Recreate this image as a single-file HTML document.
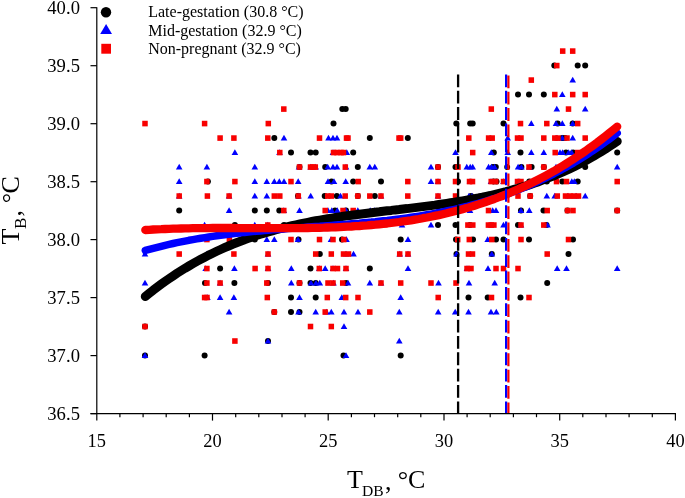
<!DOCTYPE html>
<html><head><meta charset="utf-8"><title>TB vs TDB</title>
<style>
html,body{margin:0;padding:0;background:#fff;}
body{width:685px;height:498px;overflow:hidden;position:relative;font-family:"Liberation Serif",serif;}
</style></head><body>
<svg width="685" height="498" viewBox="0 0 685 498" style="position:absolute;left:0;top:0;will-change:transform">
<rect width="685" height="498" fill="#fff"/>
<g fill="#000"><circle cx="554.3" cy="65.6" r="3"/><circle cx="577.7" cy="65.6" r="3"/><circle cx="585.2" cy="65.6" r="3"/><circle cx="518.0" cy="94.6" r="3"/><circle cx="529.0" cy="94.6" r="3"/><circle cx="543.8" cy="94.6" r="3"/><circle cx="342.3" cy="109.1" r="3"/><circle cx="345.7" cy="109.1" r="3"/><circle cx="333.5" cy="123.6" r="3"/><circle cx="456.3" cy="123.6" r="3"/><circle cx="470.2" cy="123.6" r="3"/><circle cx="472.7" cy="123.6" r="3"/><circle cx="503.5" cy="123.6" r="3"/><circle cx="557.7" cy="123.6" r="3"/><circle cx="572.7" cy="123.6" r="3"/><circle cx="274.3" cy="138.1" r="3"/><circle cx="369.8" cy="138.1" r="3"/><circle cx="407.8" cy="138.1" r="3"/><circle cx="562.3" cy="138.1" r="3"/><circle cx="565.0" cy="138.1" r="3"/><circle cx="291.0" cy="152.6" r="3"/><circle cx="310.5" cy="152.6" r="3"/><circle cx="315.7" cy="152.6" r="3"/><circle cx="353.2" cy="152.6" r="3"/><circle cx="493.8" cy="152.6" r="3"/><circle cx="520.5" cy="152.6" r="3"/><circle cx="566.0" cy="152.6" r="3"/><circle cx="573.1" cy="152.6" r="3"/><circle cx="617.2" cy="152.6" r="3"/><circle cx="299.5" cy="167.1" r="3"/><circle cx="325.2" cy="167.1" r="3"/><circle cx="357.8" cy="167.1" r="3"/><circle cx="438.0" cy="167.1" r="3"/><circle cx="455.5" cy="167.1" r="3"/><circle cx="493.0" cy="167.1" r="3"/><circle cx="495.8" cy="167.1" r="3"/><circle cx="507.2" cy="167.1" r="3"/><circle cx="521.4" cy="167.1" r="3"/><circle cx="531.6" cy="167.1" r="3"/><circle cx="543.8" cy="167.1" r="3"/><circle cx="585.2" cy="167.1" r="3"/><circle cx="207.9" cy="181.6" r="3"/><circle cx="331.5" cy="181.6" r="3"/><circle cx="353.2" cy="181.6" r="3"/><circle cx="381.0" cy="181.6" r="3"/><circle cx="458.0" cy="181.6" r="3"/><circle cx="493.5" cy="181.6" r="3"/><circle cx="496.5" cy="181.6" r="3"/><circle cx="529.3" cy="181.6" r="3"/><circle cx="546.8" cy="181.6" r="3"/><circle cx="562.3" cy="181.6" r="3"/><circle cx="577.7" cy="181.6" r="3"/><circle cx="298.0" cy="196.1" r="3"/><circle cx="324.7" cy="196.1" r="3"/><circle cx="336.8" cy="196.1" r="3"/><circle cx="357.8" cy="196.1" r="3"/><circle cx="374.8" cy="196.1" r="3"/><circle cx="471.0" cy="196.1" r="3"/><circle cx="530.2" cy="196.1" r="3"/><circle cx="179.2" cy="210.6" r="3"/><circle cx="254.8" cy="210.6" r="3"/><circle cx="266.8" cy="210.6" r="3"/><circle cx="279.3" cy="210.6" r="3"/><circle cx="335.0" cy="210.6" r="3"/><circle cx="346.0" cy="210.6" r="3"/><circle cx="521.0" cy="210.6" r="3"/><circle cx="543.5" cy="210.6" r="3"/><circle cx="567.5" cy="210.6" r="3"/><circle cx="617.2" cy="210.6" r="3"/><circle cx="234.9" cy="225.0" r="3"/><circle cx="284.0" cy="225.0" r="3"/><circle cx="438.0" cy="225.0" r="3"/><circle cx="455.5" cy="225.0" r="3"/><circle cx="470.0" cy="225.0" r="3"/><circle cx="518.0" cy="225.0" r="3"/><circle cx="546.5" cy="225.0" r="3"/><circle cx="254.8" cy="239.5" r="3"/><circle cx="298.5" cy="239.5" r="3"/><circle cx="342.0" cy="239.5" r="3"/><circle cx="400.7" cy="239.5" r="3"/><circle cx="456.0" cy="239.5" r="3"/><circle cx="473.0" cy="239.5" r="3"/><circle cx="496.0" cy="239.5" r="3"/><circle cx="503.5" cy="239.5" r="3"/><circle cx="529.0" cy="239.5" r="3"/><circle cx="573.0" cy="239.5" r="3"/><circle cx="319.8" cy="254.0" r="3"/><circle cx="456.5" cy="254.0" r="3"/><circle cx="491.8" cy="254.0" r="3"/><circle cx="568.5" cy="254.0" r="3"/><circle cx="220.1" cy="268.5" r="3"/><circle cx="310.5" cy="268.5" r="3"/><circle cx="369.8" cy="268.5" r="3"/><circle cx="205.0" cy="283.0" r="3"/><circle cx="234.4" cy="283.0" r="3"/><circle cx="268.0" cy="283.0" r="3"/><circle cx="299.5" cy="283.0" r="3"/><circle cx="310.5" cy="283.0" r="3"/><circle cx="315.7" cy="283.0" r="3"/><circle cx="346.0" cy="283.0" r="3"/><circle cx="547.2" cy="283.0" r="3"/><circle cx="291.0" cy="297.5" r="3"/><circle cx="315.7" cy="297.5" r="3"/><circle cx="468.5" cy="297.5" r="3"/><circle cx="487.7" cy="297.5" r="3"/><circle cx="520.5" cy="297.5" r="3"/><circle cx="274.3" cy="312.0" r="3"/><circle cx="291.0" cy="312.0" r="3"/><circle cx="299.5" cy="312.0" r="3"/><circle cx="145.0" cy="326.5" r="3"/><circle cx="268.0" cy="341.0" r="3"/><circle cx="145.0" cy="355.5" r="3"/><circle cx="204.6" cy="355.5" r="3"/><circle cx="343.5" cy="355.5" r="3"/><circle cx="400.7" cy="355.5" r="3"/></g>
<g fill="#0000ff"><path d="M572.7,76.8l3.3,5.8h-6.6z"/><path d="M562.3,91.3l3.3,5.8h-6.6z"/><path d="M556.8,105.8l3.3,5.8h-6.6z"/><path d="M585.2,105.8l3.3,5.8h-6.6z"/><path d="M531.3,120.3l3.3,5.8h-6.6z"/><path d="M556.0,120.3l3.3,5.8h-6.6z"/><path d="M562.3,120.3l3.3,5.8h-6.6z"/><path d="M572.7,120.3l3.3,5.8h-6.6z"/><path d="M284.0,134.8l3.3,5.8h-6.6z"/><path d="M328.5,134.8l3.3,5.8h-6.6z"/><path d="M333.0,134.8l3.3,5.8h-6.6z"/><path d="M337.0,134.8l3.3,5.8h-6.6z"/><path d="M507.7,134.8l3.3,5.8h-6.6z"/><path d="M557.0,134.8l3.3,5.8h-6.6z"/><path d="M562.3,134.8l3.3,5.8h-6.6z"/><path d="M572.7,134.8l3.3,5.8h-6.6z"/><path d="M234.9,149.3l3.3,5.8h-6.6z"/><path d="M279.5,149.3l3.3,5.8h-6.6z"/><path d="M333.0,149.3l3.3,5.8h-6.6z"/><path d="M346.8,149.3l3.3,5.8h-6.6z"/><path d="M455.5,149.3l3.3,5.8h-6.6z"/><path d="M491.3,149.3l3.3,5.8h-6.6z"/><path d="M507.7,149.3l3.3,5.8h-6.6z"/><path d="M531.3,149.3l3.3,5.8h-6.6z"/><path d="M543.8,149.3l3.3,5.8h-6.6z"/><path d="M560.0,149.3l3.3,5.8h-6.6z"/><path d="M562.6,149.3l3.3,5.8h-6.6z"/><path d="M568.6,149.3l3.3,5.8h-6.6z"/><path d="M571.6,149.3l3.3,5.8h-6.6z"/><path d="M179.2,163.8l3.3,5.8h-6.6z"/><path d="M206.9,163.8l3.3,5.8h-6.6z"/><path d="M254.8,163.8l3.3,5.8h-6.6z"/><path d="M299.0,163.8l3.3,5.8h-6.6z"/><path d="M310.7,163.8l3.3,5.8h-6.6z"/><path d="M315.7,163.8l3.3,5.8h-6.6z"/><path d="M327.7,163.8l3.3,5.8h-6.6z"/><path d="M333.0,163.8l3.3,5.8h-6.6z"/><path d="M337.0,163.8l3.3,5.8h-6.6z"/><path d="M346.0,163.8l3.3,5.8h-6.6z"/><path d="M369.8,163.8l3.3,5.8h-6.6z"/><path d="M374.8,163.8l3.3,5.8h-6.6z"/><path d="M431.0,163.8l3.3,5.8h-6.6z"/><path d="M466.8,163.8l3.3,5.8h-6.6z"/><path d="M470.2,163.8l3.3,5.8h-6.6z"/><path d="M472.7,163.8l3.3,5.8h-6.6z"/><path d="M488.6,163.8l3.3,5.8h-6.6z"/><path d="M491.6,163.8l3.3,5.8h-6.6z"/><path d="M494.6,163.8l3.3,5.8h-6.6z"/><path d="M518.1,163.8l3.3,5.8h-6.6z"/><path d="M521.4,163.8l3.3,5.8h-6.6z"/><path d="M529.3,163.8l3.3,5.8h-6.6z"/><path d="M556.0,163.8l3.3,5.8h-6.6z"/><path d="M617.2,163.8l3.3,5.8h-6.6z"/><path d="M179.2,178.3l3.3,5.8h-6.6z"/><path d="M254.8,178.3l3.3,5.8h-6.6z"/><path d="M266.8,178.3l3.3,5.8h-6.6z"/><path d="M274.3,178.3l3.3,5.8h-6.6z"/><path d="M279.3,178.3l3.3,5.8h-6.6z"/><path d="M284.0,178.3l3.3,5.8h-6.6z"/><path d="M298.2,178.3l3.3,5.8h-6.6z"/><path d="M328.0,178.3l3.3,5.8h-6.6z"/><path d="M334.0,178.3l3.3,5.8h-6.6z"/><path d="M345.7,178.3l3.3,5.8h-6.6z"/><path d="M431.0,178.3l3.3,5.8h-6.6z"/><path d="M438.0,178.3l3.3,5.8h-6.6z"/><path d="M470.0,178.3l3.3,5.8h-6.6z"/><path d="M491.0,178.3l3.3,5.8h-6.6z"/><path d="M503.5,178.3l3.3,5.8h-6.6z"/><path d="M518.0,178.3l3.3,5.8h-6.6z"/><path d="M571.8,178.3l3.3,5.8h-6.6z"/><path d="M574.3,178.3l3.3,5.8h-6.6z"/><path d="M179.2,192.8l3.3,5.8h-6.6z"/><path d="M229.1,192.8l3.3,5.8h-6.6z"/><path d="M254.8,192.8l3.3,5.8h-6.6z"/><path d="M266.8,192.8l3.3,5.8h-6.6z"/><path d="M298.5,192.8l3.3,5.8h-6.6z"/><path d="M310.7,192.8l3.3,5.8h-6.6z"/><path d="M340.5,192.8l3.3,5.8h-6.6z"/><path d="M381.0,192.8l3.3,5.8h-6.6z"/><path d="M438.0,192.8l3.3,5.8h-6.6z"/><path d="M469.0,192.8l3.3,5.8h-6.6z"/><path d="M472.0,192.8l3.3,5.8h-6.6z"/><path d="M546.8,192.8l3.3,5.8h-6.6z"/><path d="M554.7,192.8l3.3,5.8h-6.6z"/><path d="M568.0,192.8l3.3,5.8h-6.6z"/><path d="M576.0,192.8l3.3,5.8h-6.6z"/><path d="M585.2,192.8l3.3,5.8h-6.6z"/><path d="M229.1,207.2l3.3,5.8h-6.6z"/><path d="M283.8,207.2l3.3,5.8h-6.6z"/><path d="M299.5,207.2l3.3,5.8h-6.6z"/><path d="M328.0,207.2l3.3,5.8h-6.6z"/><path d="M331.8,207.2l3.3,5.8h-6.6z"/><path d="M337.3,207.2l3.3,5.8h-6.6z"/><path d="M346.0,207.2l3.3,5.8h-6.6z"/><path d="M357.8,207.2l3.3,5.8h-6.6z"/><path d="M370.2,207.2l3.3,5.8h-6.6z"/><path d="M374.3,207.2l3.3,5.8h-6.6z"/><path d="M437.7,207.2l3.3,5.8h-6.6z"/><path d="M470.0,207.2l3.3,5.8h-6.6z"/><path d="M492.7,207.2l3.3,5.8h-6.6z"/><path d="M496.0,207.2l3.3,5.8h-6.6z"/><path d="M521.0,207.2l3.3,5.8h-6.6z"/><path d="M529.3,207.2l3.3,5.8h-6.6z"/><path d="M204.6,221.7l3.3,5.8h-6.6z"/><path d="M254.8,221.7l3.3,5.8h-6.6z"/><path d="M267.8,221.7l3.3,5.8h-6.6z"/><path d="M402.0,221.7l3.3,5.8h-6.6z"/><path d="M431.0,221.7l3.3,5.8h-6.6z"/><path d="M491.0,221.7l3.3,5.8h-6.6z"/><path d="M503.5,221.7l3.3,5.8h-6.6z"/><path d="M521.0,221.7l3.3,5.8h-6.6z"/><path d="M547.5,221.7l3.3,5.8h-6.6z"/><path d="M266.8,236.2l3.3,5.8h-6.6z"/><path d="M274.3,236.2l3.3,5.8h-6.6z"/><path d="M298.0,236.2l3.3,5.8h-6.6z"/><path d="M331.0,236.2l3.3,5.8h-6.6z"/><path d="M346.5,236.2l3.3,5.8h-6.6z"/><path d="M408.0,236.2l3.3,5.8h-6.6z"/><path d="M487.7,236.2l3.3,5.8h-6.6z"/><path d="M145.0,250.7l3.3,5.8h-6.6z"/><path d="M206.9,250.7l3.3,5.8h-6.6z"/><path d="M268.0,250.7l3.3,5.8h-6.6z"/><path d="M346.0,250.7l3.3,5.8h-6.6z"/><path d="M353.5,250.7l3.3,5.8h-6.6z"/><path d="M399.7,250.7l3.3,5.8h-6.6z"/><path d="M408.0,250.7l3.3,5.8h-6.6z"/><path d="M456.5,250.7l3.3,5.8h-6.6z"/><path d="M491.8,250.7l3.3,5.8h-6.6z"/><path d="M205.7,265.2l3.3,5.8h-6.6z"/><path d="M234.4,265.2l3.3,5.8h-6.6z"/><path d="M268.0,265.2l3.3,5.8h-6.6z"/><path d="M291.3,265.2l3.3,5.8h-6.6z"/><path d="M319.3,265.2l3.3,5.8h-6.6z"/><path d="M325.2,265.2l3.3,5.8h-6.6z"/><path d="M333.0,265.2l3.3,5.8h-6.6z"/><path d="M346.0,265.2l3.3,5.8h-6.6z"/><path d="M408.0,265.2l3.3,5.8h-6.6z"/><path d="M467.0,265.2l3.3,5.8h-6.6z"/><path d="M488.0,265.2l3.3,5.8h-6.6z"/><path d="M557.2,265.2l3.3,5.8h-6.6z"/><path d="M566.5,265.2l3.3,5.8h-6.6z"/><path d="M617.2,265.2l3.3,5.8h-6.6z"/><path d="M145.0,279.7l3.3,5.8h-6.6z"/><path d="M220.1,279.7l3.3,5.8h-6.6z"/><path d="M291.3,279.7l3.3,5.8h-6.6z"/><path d="M311.0,279.7l3.3,5.8h-6.6z"/><path d="M316.0,279.7l3.3,5.8h-6.6z"/><path d="M319.8,279.7l3.3,5.8h-6.6z"/><path d="M333.5,279.7l3.3,5.8h-6.6z"/><path d="M348.0,279.7l3.3,5.8h-6.6z"/><path d="M369.8,279.7l3.3,5.8h-6.6z"/><path d="M381.0,279.7l3.3,5.8h-6.6z"/><path d="M438.5,279.7l3.3,5.8h-6.6z"/><path d="M469.0,279.7l3.3,5.8h-6.6z"/><path d="M494.7,279.7l3.3,5.8h-6.6z"/><path d="M207.4,294.2l3.3,5.8h-6.6z"/><path d="M220.1,294.2l3.3,5.8h-6.6z"/><path d="M233.9,294.2l3.3,5.8h-6.6z"/><path d="M299.5,294.2l3.3,5.8h-6.6z"/><path d="M341.8,294.2l3.3,5.8h-6.6z"/><path d="M400.7,294.2l3.3,5.8h-6.6z"/><path d="M229.1,308.7l3.3,5.8h-6.6z"/><path d="M298.5,308.7l3.3,5.8h-6.6z"/><path d="M315.7,308.7l3.3,5.8h-6.6z"/><path d="M326.5,308.7l3.3,5.8h-6.6z"/><path d="M331.3,308.7l3.3,5.8h-6.6z"/><path d="M344.0,308.7l3.3,5.8h-6.6z"/><path d="M358.0,308.7l3.3,5.8h-6.6z"/><path d="M399.3,308.7l3.3,5.8h-6.6z"/><path d="M438.2,308.7l3.3,5.8h-6.6z"/><path d="M455.2,308.7l3.3,5.8h-6.6z"/><path d="M468.5,308.7l3.3,5.8h-6.6z"/><path d="M491.0,308.7l3.3,5.8h-6.6z"/><path d="M496.3,308.7l3.3,5.8h-6.6z"/><path d="M344.0,323.2l3.3,5.8h-6.6z"/><path d="M268.0,337.7l3.3,5.8h-6.6z"/><path d="M399.3,337.7l3.3,5.8h-6.6z"/><path d="M145.0,352.2l3.3,5.8h-6.6z"/><path d="M346.0,352.2l3.3,5.8h-6.6z"/></g>
<g fill="#f80000"><rect x="559.95" y="48.29" width="5.5" height="5.6"/><rect x="569.95" y="48.29" width="5.5" height="5.6"/><rect x="554.05" y="62.79" width="5.5" height="5.6"/><rect x="528.55" y="77.28" width="5.5" height="5.6"/><rect x="552.05" y="91.78" width="5.5" height="5.6"/><rect x="569.95" y="91.78" width="5.5" height="5.6"/><rect x="582.45" y="91.78" width="5.5" height="5.6"/><rect x="281.05" y="106.27" width="5.5" height="5.6"/><rect x="488.55" y="106.27" width="5.5" height="5.6"/><rect x="565.75" y="106.27" width="5.5" height="5.6"/><rect x="142.25" y="120.77" width="5.5" height="5.6"/><rect x="201.85" y="120.77" width="5.5" height="5.6"/><rect x="265.55" y="120.77" width="5.5" height="5.6"/><rect x="517.75" y="120.77" width="5.5" height="5.6"/><rect x="544.05" y="120.77" width="5.5" height="5.6"/><rect x="574.95" y="120.77" width="5.5" height="5.6"/><rect x="217.35" y="135.27" width="5.5" height="5.6"/><rect x="231.15" y="135.27" width="5.5" height="5.6"/><rect x="265.05" y="135.27" width="5.5" height="5.6"/><rect x="316.75" y="135.27" width="5.5" height="5.6"/><rect x="343.75" y="135.27" width="5.5" height="5.6"/><rect x="345.25" y="135.27" width="5.5" height="5.6"/><rect x="396.25" y="135.27" width="5.5" height="5.6"/><rect x="397.95" y="135.27" width="5.5" height="5.6"/><rect x="466.05" y="135.27" width="5.5" height="5.6"/><rect x="485.85" y="135.27" width="5.5" height="5.6"/><rect x="489.45" y="135.27" width="5.5" height="5.6"/><rect x="514.75" y="135.27" width="5.5" height="5.6"/><rect x="518.25" y="135.27" width="5.5" height="5.6"/><rect x="541.05" y="135.27" width="5.5" height="5.6"/><rect x="552.05" y="135.27" width="5.5" height="5.6"/><rect x="555.25" y="135.27" width="5.5" height="5.6"/><rect x="564.25" y="135.27" width="5.5" height="5.6"/><rect x="582.45" y="135.27" width="5.5" height="5.6"/><rect x="277.05" y="149.76" width="5.5" height="5.6"/><rect x="330.75" y="149.76" width="5.5" height="5.6"/><rect x="334.25" y="149.76" width="5.5" height="5.6"/><rect x="338.25" y="149.76" width="5.5" height="5.6"/><rect x="340.75" y="149.76" width="5.5" height="5.6"/><rect x="469.95" y="149.76" width="5.5" height="5.6"/><rect x="552.45" y="149.76" width="5.5" height="5.6"/><rect x="574.95" y="149.76" width="5.5" height="5.6"/><rect x="296.75" y="164.26" width="5.5" height="5.6"/><rect x="307.75" y="164.26" width="5.5" height="5.6"/><rect x="310.25" y="164.26" width="5.5" height="5.6"/><rect x="312.55" y="164.26" width="5.5" height="5.6"/><rect x="342.55" y="164.26" width="5.5" height="5.6"/><rect x="435.25" y="164.26" width="5.5" height="5.6"/><rect x="455.25" y="164.26" width="5.5" height="5.6"/><rect x="526.25" y="164.26" width="5.5" height="5.6"/><rect x="541.05" y="164.26" width="5.5" height="5.6"/><rect x="204.15" y="178.76" width="5.5" height="5.6"/><rect x="232.15" y="178.76" width="5.5" height="5.6"/><rect x="288.25" y="178.76" width="5.5" height="5.6"/><rect x="355.45" y="178.76" width="5.5" height="5.6"/><rect x="405.05" y="178.76" width="5.5" height="5.6"/><rect x="435.25" y="178.76" width="5.5" height="5.6"/><rect x="452.75" y="178.76" width="5.5" height="5.6"/><rect x="466.75" y="178.76" width="5.5" height="5.6"/><rect x="469.75" y="178.76" width="5.5" height="5.6"/><rect x="488.45" y="178.76" width="5.5" height="5.6"/><rect x="493.05" y="178.76" width="5.5" height="5.6"/><rect x="500.75" y="178.76" width="5.5" height="5.6"/><rect x="514.75" y="178.76" width="5.5" height="5.6"/><rect x="518.25" y="178.76" width="5.5" height="5.6"/><rect x="553.75" y="178.76" width="5.5" height="5.6"/><rect x="563.75" y="178.76" width="5.5" height="5.6"/><rect x="614.45" y="178.76" width="5.5" height="5.6"/><rect x="176.45" y="193.25" width="5.5" height="5.6"/><rect x="204.65" y="193.25" width="5.5" height="5.6"/><rect x="226.35" y="193.25" width="5.5" height="5.6"/><rect x="271.55" y="193.25" width="5.5" height="5.6"/><rect x="277.05" y="193.25" width="5.5" height="5.6"/><rect x="295.55" y="193.25" width="5.5" height="5.6"/><rect x="324.95" y="193.25" width="5.5" height="5.6"/><rect x="328.55" y="193.25" width="5.5" height="5.6"/><rect x="342.45" y="193.25" width="5.5" height="5.6"/><rect x="355.05" y="193.25" width="5.5" height="5.6"/><rect x="367.05" y="193.25" width="5.5" height="5.6"/><rect x="378.25" y="193.25" width="5.5" height="5.6"/><rect x="405.05" y="193.25" width="5.5" height="5.6"/><rect x="435.25" y="193.25" width="5.5" height="5.6"/><rect x="452.75" y="193.25" width="5.5" height="5.6"/><rect x="515.25" y="193.25" width="5.5" height="5.6"/><rect x="527.45" y="193.25" width="5.5" height="5.6"/><rect x="554.55" y="193.25" width="5.5" height="5.6"/><rect x="562.75" y="193.25" width="5.5" height="5.6"/><rect x="567.25" y="193.25" width="5.5" height="5.6"/><rect x="571.25" y="193.25" width="5.5" height="5.6"/><rect x="575.75" y="193.25" width="5.5" height="5.6"/><rect x="281.05" y="207.75" width="5.5" height="5.6"/><rect x="322.45" y="207.75" width="5.5" height="5.6"/><rect x="340.25" y="207.75" width="5.5" height="5.6"/><rect x="350.45" y="207.75" width="5.5" height="5.6"/><rect x="485.75" y="207.75" width="5.5" height="5.6"/><rect x="544.45" y="207.75" width="5.5" height="5.6"/><rect x="564.75" y="207.75" width="5.5" height="5.6"/><rect x="570.25" y="207.75" width="5.5" height="5.6"/><rect x="614.45" y="207.75" width="5.5" height="5.6"/><rect x="265.05" y="222.25" width="5.5" height="5.6"/><rect x="465.15" y="222.25" width="5.5" height="5.6"/><rect x="470.05" y="222.25" width="5.5" height="5.6"/><rect x="485.65" y="222.25" width="5.5" height="5.6"/><rect x="488.45" y="222.25" width="5.5" height="5.6"/><rect x="491.15" y="222.25" width="5.5" height="5.6"/><rect x="518.25" y="222.25" width="5.5" height="5.6"/><rect x="541.05" y="222.25" width="5.5" height="5.6"/><rect x="204.15" y="236.74" width="5.5" height="5.6"/><rect x="226.65" y="236.74" width="5.5" height="5.6"/><rect x="288.25" y="236.74" width="5.5" height="5.6"/><rect x="316.75" y="236.74" width="5.5" height="5.6"/><rect x="330.25" y="236.74" width="5.5" height="5.6"/><rect x="341.05" y="236.74" width="5.5" height="5.6"/><rect x="454.95" y="236.74" width="5.5" height="5.6"/><rect x="466.55" y="236.74" width="5.5" height="5.6"/><rect x="489.05" y="236.74" width="5.5" height="5.6"/><rect x="518.25" y="236.74" width="5.5" height="5.6"/><rect x="565.75" y="236.74" width="5.5" height="5.6"/><rect x="176.45" y="251.24" width="5.5" height="5.6"/><rect x="231.15" y="251.24" width="5.5" height="5.6"/><rect x="265.25" y="251.24" width="5.5" height="5.6"/><rect x="312.95" y="251.24" width="5.5" height="5.6"/><rect x="328.55" y="251.24" width="5.5" height="5.6"/><rect x="340.75" y="251.24" width="5.5" height="5.6"/><rect x="345.75" y="251.24" width="5.5" height="5.6"/><rect x="396.95" y="251.24" width="5.5" height="5.6"/><rect x="405.25" y="251.24" width="5.5" height="5.6"/><rect x="465.75" y="251.24" width="5.5" height="5.6"/><rect x="469.75" y="251.24" width="5.5" height="5.6"/><rect x="544.45" y="251.24" width="5.5" height="5.6"/><rect x="204.15" y="265.74" width="5.5" height="5.6"/><rect x="252.35" y="265.74" width="5.5" height="5.6"/><rect x="265.25" y="265.74" width="5.5" height="5.6"/><rect x="316.55" y="265.74" width="5.5" height="5.6"/><rect x="330.25" y="265.74" width="5.5" height="5.6"/><rect x="334.75" y="265.74" width="5.5" height="5.6"/><rect x="343.25" y="265.74" width="5.5" height="5.6"/><rect x="464.25" y="265.74" width="5.5" height="5.6"/><rect x="468.25" y="265.74" width="5.5" height="5.6"/><rect x="493.25" y="265.74" width="5.5" height="5.6"/><rect x="500.75" y="265.74" width="5.5" height="5.6"/><rect x="515.25" y="265.74" width="5.5" height="5.6"/><rect x="204.15" y="280.23" width="5.5" height="5.6"/><rect x="217.35" y="280.23" width="5.5" height="5.6"/><rect x="264.05" y="280.23" width="5.5" height="5.6"/><rect x="296.75" y="280.23" width="5.5" height="5.6"/><rect x="325.25" y="280.23" width="5.5" height="5.6"/><rect x="330.25" y="280.23" width="5.5" height="5.6"/><rect x="339.95" y="280.23" width="5.5" height="5.6"/><rect x="378.25" y="280.23" width="5.5" height="5.6"/><rect x="397.95" y="280.23" width="5.5" height="5.6"/><rect x="428.25" y="280.23" width="5.5" height="5.6"/><rect x="453.25" y="280.23" width="5.5" height="5.6"/><rect x="201.85" y="294.73" width="5.5" height="5.6"/><rect x="204.25" y="294.73" width="5.5" height="5.6"/><rect x="264.55" y="294.73" width="5.5" height="5.6"/><rect x="324.55" y="294.73" width="5.5" height="5.6"/><rect x="342.95" y="294.73" width="5.5" height="5.6"/><rect x="355.25" y="294.73" width="5.5" height="5.6"/><rect x="435.45" y="294.73" width="5.5" height="5.6"/><rect x="488.75" y="294.73" width="5.5" height="5.6"/><rect x="526.25" y="294.73" width="5.5" height="5.6"/><rect x="271.55" y="309.23" width="5.5" height="5.6"/><rect x="322.45" y="309.23" width="5.5" height="5.6"/><rect x="367.05" y="309.23" width="5.5" height="5.6"/><rect x="142.25" y="323.72" width="5.5" height="5.6"/><rect x="307.75" y="323.72" width="5.5" height="5.6"/><rect x="328.55" y="323.72" width="5.5" height="5.6"/><rect x="232.15" y="338.22" width="5.5" height="5.6"/></g>
<path d="M145.3,296.5 L149.3,293.3 L153.2,290.2 L157.2,287.2 L161.2,284.2 L165.1,281.4 L169.1,278.6 L173.1,275.9 L177.0,273.3 L181.0,270.8 L185.0,268.3 L188.9,266.0 L192.9,263.7 L196.9,261.4 L200.8,259.3 L204.8,257.2 L208.7,255.1 L212.7,253.2 L216.7,251.3 L220.6,249.5 L224.6,247.7 L228.6,246.0 L232.5,244.3 L236.5,242.7 L240.5,241.2 L244.4,239.7 L248.4,238.3 L252.4,236.9 L256.3,235.6 L260.3,234.3 L264.3,233.1 L268.2,231.9 L272.2,230.8 L276.2,229.7 L280.1,228.6 L284.1,227.6 L288.1,226.6 L292.0,225.7 L296.0,224.8 L300.0,223.9 L303.9,223.1 L307.9,222.3 L311.9,221.5 L315.8,220.8 L319.8,220.1 L323.7,219.4 L327.7,218.7 L331.7,218.1 L335.6,217.5 L339.6,216.9 L343.6,216.3 L347.5,215.8 L351.5,215.2 L355.5,214.7 L359.4,214.2 L363.4,213.7 L367.4,213.2 L371.3,212.7 L375.3,212.2 L379.3,211.8 L383.2,211.3 L387.2,210.8 L391.2,210.4 L395.1,209.9 L399.1,209.5 L403.1,209.0 L407.0,208.6 L411.0,208.1 L415.0,207.6 L418.9,207.1 L422.9,206.6 L426.9,206.1 L430.8,205.6 L434.8,205.1 L438.8,204.5 L442.7,204.0 L446.7,203.4 L450.6,202.8 L454.6,202.2 L458.6,201.5 L462.5,200.9 L466.5,200.2 L470.5,199.5 L474.4,198.7 L478.4,198.0 L482.4,197.2 L486.3,196.3 L490.3,195.5 L494.3,194.5 L498.2,193.6 L502.2,192.6 L506.2,191.6 L510.1,190.5 L514.1,189.4 L518.1,188.3 L522.0,187.1 L526.0,185.9 L530.0,184.6 L533.9,183.3 L537.9,181.9 L541.9,180.4 L545.8,178.9 L549.8,177.4 L553.8,175.8 L557.7,174.1 L561.7,172.4 L565.6,170.6 L569.6,168.8 L573.6,166.9 L577.5,164.9 L581.5,162.9 L585.5,160.8 L589.4,158.6 L593.4,156.4 L597.4,154.0 L601.3,151.6 L605.3,149.2 L609.3,146.6 L613.2,144.0 L617.2,141.3" fill="none" stroke="#000" stroke-width="9" stroke-linecap="round" stroke-linejoin="round"/>
<path d="M145.3,250.4 L149.3,249.3 L153.2,248.3 L157.2,247.3 L161.2,246.3 L165.1,245.3 L169.1,244.4 L173.1,243.5 L177.0,242.7 L181.0,241.9 L185.0,241.1 L188.9,240.3 L192.9,239.6 L196.9,238.9 L200.8,238.2 L204.8,237.6 L208.7,237.0 L212.7,236.4 L216.7,235.8 L220.6,235.3 L224.6,234.7 L228.6,234.2 L232.5,233.8 L236.5,233.3 L240.5,232.9 L244.4,232.4 L248.4,232.0 L252.4,231.6 L256.3,231.2 L260.3,230.9 L264.3,230.5 L268.2,230.2 L272.2,229.8 L276.2,229.5 L280.1,229.2 L284.1,228.9 L288.1,228.6 L292.0,228.3 L296.0,228.0 L300.0,227.7 L303.9,227.4 L307.9,227.1 L311.9,226.8 L315.8,226.5 L319.8,226.3 L323.7,226.0 L327.7,225.7 L331.7,225.4 L335.6,225.1 L339.6,224.8 L343.6,224.5 L347.5,224.2 L351.5,223.8 L355.5,223.5 L359.4,223.2 L363.4,222.8 L367.4,222.4 L371.3,222.1 L375.3,221.7 L379.3,221.2 L383.2,220.8 L387.2,220.4 L391.2,219.9 L395.1,219.4 L399.1,218.9 L403.1,218.4 L407.0,217.9 L411.0,217.3 L415.0,216.7 L418.9,216.1 L422.9,215.5 L426.9,214.8 L430.8,214.1 L434.8,213.4 L438.8,212.6 L442.7,211.8 L446.7,211.0 L450.6,210.2 L454.6,209.3 L458.6,208.4 L462.5,207.4 L466.5,206.5 L470.5,205.4 L474.4,204.4 L478.4,203.3 L482.4,202.1 L486.3,201.0 L490.3,199.7 L494.3,198.5 L498.2,197.2 L502.2,195.8 L506.2,194.4 L510.1,193.0 L514.1,191.5 L518.1,190.0 L522.0,188.4 L526.0,186.7 L530.0,185.1 L533.9,183.3 L537.9,181.5 L541.9,179.7 L545.8,177.8 L549.8,175.8 L553.8,173.8 L557.7,171.7 L561.7,169.6 L565.6,167.4 L569.6,165.2 L573.6,162.9 L577.5,160.5 L581.5,158.0 L585.5,155.5 L589.4,153.0 L593.4,150.3 L597.4,147.6 L601.3,144.9 L605.3,142.0 L609.3,139.1 L613.2,136.2 L617.2,133.1" fill="none" stroke="#0000ff" stroke-width="7.5" stroke-linecap="round" stroke-linejoin="round"/>
<path d="M145.3,230.0 L149.3,229.8 L153.2,229.5 L157.2,229.3 L161.2,229.2 L165.1,229.0 L169.1,228.8 L173.1,228.7 L177.0,228.6 L181.0,228.5 L185.0,228.4 L188.9,228.3 L192.9,228.2 L196.9,228.2 L200.8,228.1 L204.8,228.1 L208.7,228.1 L212.7,228.0 L216.7,228.0 L220.6,228.0 L224.6,228.0 L228.6,228.0 L232.5,228.0 L236.5,228.1 L240.5,228.1 L244.4,228.1 L248.4,228.1 L252.4,228.1 L256.3,228.1 L260.3,228.2 L264.3,228.2 L268.2,228.2 L272.2,228.2 L276.2,228.2 L280.1,228.2 L284.1,228.2 L288.1,228.2 L292.0,228.2 L296.0,228.2 L300.0,228.1 L303.9,228.1 L307.9,228.0 L311.9,227.9 L315.8,227.9 L319.8,227.8 L323.7,227.7 L327.7,227.5 L331.7,227.4 L335.6,227.3 L339.6,227.1 L343.6,226.9 L347.5,226.7 L351.5,226.5 L355.5,226.2 L359.4,226.0 L363.4,225.7 L367.4,225.4 L371.3,225.0 L375.3,224.7 L379.3,224.3 L383.2,223.9 L387.2,223.5 L391.2,223.0 L395.1,222.5 L399.1,222.0 L403.1,221.4 L407.0,220.9 L411.0,220.3 L415.0,219.6 L418.9,219.0 L422.9,218.2 L426.9,217.5 L430.8,216.7 L434.8,215.9 L438.8,215.1 L442.7,214.2 L446.7,213.3 L450.6,212.3 L454.6,211.3 L458.6,210.3 L462.5,209.2 L466.5,208.1 L470.5,206.9 L474.4,205.7 L478.4,204.4 L482.4,203.1 L486.3,201.8 L490.3,200.4 L494.3,199.0 L498.2,197.5 L502.2,196.0 L506.2,194.4 L510.1,192.7 L514.1,191.0 L518.1,189.3 L522.0,187.5 L526.0,185.7 L530.0,183.8 L533.9,181.8 L537.9,179.8 L541.9,177.7 L545.8,175.6 L549.8,173.4 L553.8,171.2 L557.7,168.9 L561.7,166.5 L565.6,164.1 L569.6,161.6 L573.6,159.0 L577.5,156.4 L581.5,153.7 L585.5,151.0 L589.4,148.2 L593.4,145.3 L597.4,142.4 L601.3,139.4 L605.3,136.3 L609.3,133.1 L613.2,129.9 L617.2,126.6" fill="none" stroke="#f80000" stroke-width="8.3" stroke-linecap="round" stroke-linejoin="round"/>
<line x1="458.1" y1="413.6" stroke-dashoffset="0.6" x2="458.1" y2="74.4" stroke="#000" stroke-width="2.3" stroke-dasharray="12.8 3.55"/>
<line x1="506.1" y1="413.6" stroke-dashoffset="0.6" x2="506.1" y2="74.4" stroke="#0000ff" stroke-width="2.2" stroke-dasharray="12.8 3.55"/>
<line x1="508.4" y1="413.6" stroke-dashoffset="1.6" x2="508.4" y2="75.2" stroke="#f80000" stroke-width="2.2" stroke-dasharray="12.8 3.55"/>
<g stroke="#000" stroke-width="1.2" fill="none" transform="translate(0.4,0.4)"><path d="M96.4,6.8V413.2M90.1,413.2H675.6"/><path d="M90.1,413.2H96.4"/><path d="M90.1,355.2H96.4"/><path d="M90.1,297.2H96.4"/><path d="M90.1,239.2H96.4"/><path d="M90.1,181.3H96.4"/><path d="M90.1,123.3H96.4"/><path d="M90.1,65.3H96.4"/><path d="M90.1,7.3H96.4"/><path d="M96.4,413.2v7"/><path d="M119.5,413.2v3.6"/><path d="M142.7,413.2v3.6"/><path d="M165.8,413.2v3.6"/><path d="M189.0,413.2v3.6"/><path d="M212.1,413.2v7"/><path d="M235.3,413.2v3.6"/><path d="M258.4,413.2v3.6"/><path d="M281.6,413.2v3.6"/><path d="M304.7,413.2v3.6"/><path d="M327.8,413.2v7"/><path d="M351.0,413.2v3.6"/><path d="M374.1,413.2v3.6"/><path d="M397.3,413.2v3.6"/><path d="M420.4,413.2v3.6"/><path d="M443.6,413.2v7"/><path d="M466.7,413.2v3.6"/><path d="M489.8,413.2v3.6"/><path d="M513.0,413.2v3.6"/><path d="M536.1,413.2v3.6"/><path d="M559.3,413.2v7"/><path d="M582.4,413.2v3.6"/><path d="M605.6,413.2v3.6"/><path d="M628.7,413.2v3.6"/><path d="M651.9,413.2v3.6"/><path d="M675.0,413.2v7"/></g>
<circle cx="106.0" cy="12.3" r="5.2" fill="#000"/>
<path d="M106.1,23.9l5.9,10.2h-11.8z" fill="#0000ff"/>
<rect x="101.3" y="43.8" width="9.7" height="9.9" fill="#f80000"/>
<g font-family="'Liberation Serif', serif" fill="#000"><text x="80.2" y="420.2" text-anchor="end" font-size="18.6" letter-spacing="0.12">36.5</text><text x="80.2" y="362.2" text-anchor="end" font-size="18.6" letter-spacing="0.12">37.0</text><text x="80.2" y="304.2" text-anchor="end" font-size="18.6" letter-spacing="0.12">37.5</text><text x="80.2" y="246.2" text-anchor="end" font-size="18.6" letter-spacing="0.12">38.0</text><text x="80.2" y="188.3" text-anchor="end" font-size="18.6" letter-spacing="0.12">38.5</text><text x="80.2" y="130.3" text-anchor="end" font-size="18.6" letter-spacing="0.12">39.0</text><text x="80.2" y="72.3" text-anchor="end" font-size="18.6" letter-spacing="0.12">39.5</text><text x="80.2" y="14.3" text-anchor="end" font-size="18.6" letter-spacing="0.12">40.0</text><text x="96.8" y="447.2" text-anchor="middle" font-size="18.4">15</text><text x="212.5" y="447.2" text-anchor="middle" font-size="18.4">20</text><text x="328.2" y="447.2" text-anchor="middle" font-size="18.4">25</text><text x="444.0" y="447.2" text-anchor="middle" font-size="18.4">30</text><text x="559.7" y="447.2" text-anchor="middle" font-size="18.4">35</text><text x="675.4" y="447.2" text-anchor="middle" font-size="18.4">40</text><text x="148.2" y="17.40" font-size="16.03">Late-gestation (30.8 °C)</text><text x="148.2" y="35.65" font-size="16.03">Mid-gestation (32.9 °C)</text><text x="148.2" y="53.90" font-size="16.03">Non-pregnant (32.9 °C)</text><g transform="translate(347,488.3)"><text x="0" y="0" font-size="26">T</text><text x="15.0" y="7.3" font-size="15.6">DB</text><text x="38.0" y="1.4" font-size="26">,</text><text x="50.8" y="0" font-size="26">°</text><text x="61.0" y="0" font-size="26">C</text></g><g transform="translate(19.1,244.4) rotate(-90)"><text x="0" y="0" font-size="26">T</text><text x="15.5" y="7.3" font-size="17.2">B</text><text x="27.8" y="1.4" font-size="26">,</text><text x="41.199999999999996" y="0" font-size="26">°</text><text x="50.8" y="0" font-size="26">C</text></g></g>
</svg>
</body></html>
